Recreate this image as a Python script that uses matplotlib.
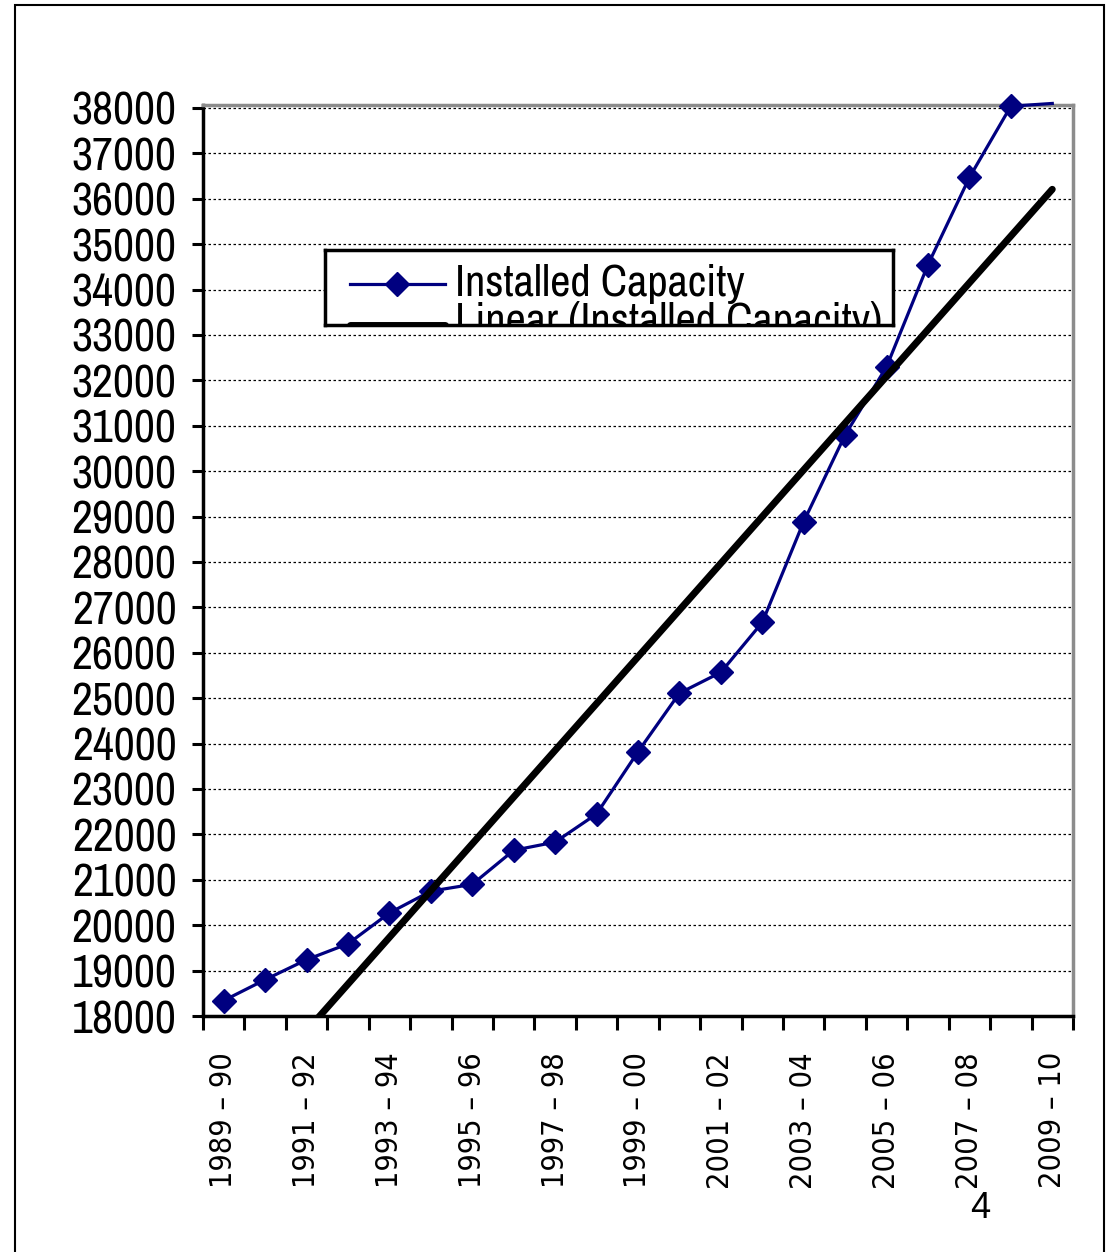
import numpy as np
import matplotlib.pyplot as plt
from matplotlib.patches import Rectangle

W, H = 1108, 1252

# data
periods = ['1989-90', '1990-91', '1991-92', '1992-93', '1993-94', '1994-95',
           '1995-96', '1996-97', '1997-98', '1998-99', '1999-00', '2000-01',
           '2001-02', '2002-03', '2003-04', '2004-05', '2005-06', '2006-07',
           '2007-08', '2008-09', '2009-10']
capacity = [18340, 18800, 19240, 19590, 20270, 20750, 20900, 21650, 21830,
            22450, 23820, 25110, 25570, 26670, 28890, 30800, 32300, 34550,
            36470, 38040, 38100]
yticks = list(range(18000, 38001, 1000))
series_name = 'Installed Capacity'
trend_name = 'Linear (Installed Capacity)'

idx = np.arange(len(periods))
coef = np.polyfit(idx, capacity, 1)   # excel style linear trendline
trend = np.polyval(coef, idx)

narrow = ['Archivo Narrow', 'DejaVu Sans']

fig = plt.figure(figsize=(W/100, H/100), dpi=100)
ax = fig.add_axes([203/W, 1-1016/H, 870/W, 911/H])

ax.plot(idx, capacity, color='#000080', lw=2.3, marker='D', ms=12.5,
        markevery=list(range(len(idx)-1)), clip_on=False, zorder=3)
ax.plot(idx, trend, color='black', lw=5, solid_capstyle='round', zorder=4)

ax.set_xlim(-0.5, len(idx)-0.5)
ax.set_ylim(18000, 38066)

ax.set_yticks(yticks)
ax.tick_params(axis='y', direction='out', length=8, width=2.2, pad=11,
               labelsize=33)
for lbl in ax.get_yticklabels():
    lbl.set_fontfamily(narrow)
ax.yaxis.grid(True, linestyle=(0, (2, 2)), color='black', lw=0.9)
ax.set_axisbelow(True)

ax.set_xticks(np.arange(-0.5, len(idx), 1))
ax.set_xticklabels([])
ax.set_xticks(idx[::2], minor=True)
ax.set_xticklabels([p.replace('-', ' \u2013 ') for p in periods[::2]],
                   minor=True, rotation=90, fontsize=22, fontstretch='condensed')
ax.tick_params(axis='x', which='major', direction='out', length=10, width=2.2)
ax.tick_params(axis='x', which='minor', length=0, pad=26)

for s in ['left', 'bottom']:
    ax.spines[s].set_linewidth(2.5)
    ax.spines[s].set_color('black')
for s in ['top', 'right']:
    ax.spines[s].set_linewidth(2.5)
    ax.spines[s].set_color('#8c8c8c')

# clipped legend box
lax = fig.add_axes([325/W, 1-325/H, 568/W, 75/H])
lax.set_xlim(0, 1)
lax.set_ylim(0, 1)
lax.set_xticks([])
lax.set_yticks([])
for s in lax.spines.values():
    s.set_linewidth(2.5)
lax.plot([0.044, 0.211], [0.55, 0.55], color='#000080', lw=2.3)
lax.plot([0.127], [0.55], color='#000080', marker='D', ms=12.5)
lax.plot([0.044, 0.211], [0.0, 0.0], color='black', lw=5, solid_capstyle='round')
lax.text(0.229, 0.55, series_name, fontsize=32, family=narrow, va='center')
lax.text(0.229, 0.04, trend_name, fontsize=32, family=narrow, va='center',
         clip_on=True)

# page frame and page number
fig.patches.append(Rectangle((15/W, -0.01), 1089/W, 1.01 - 5/H,
                             transform=fig.transFigure, fill=False,
                             edgecolor='black', lw=1.5))
fig.text(980/W, 1-1208/H, '4', fontsize=26, ha='center', va='center',
         family='Liberation Sans')

fig.savefig('out.png', dpi=100)
